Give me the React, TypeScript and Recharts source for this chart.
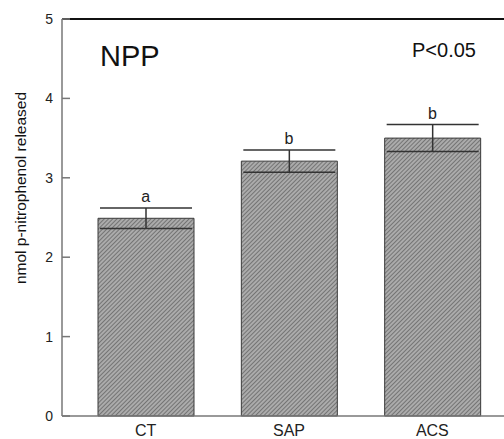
import React from "react";
import {
  BarChart,
  Bar,
  XAxis,
  YAxis,
  ErrorBar,
  ReferenceLine,
  ReferenceDot,
  Customized,
} from "recharts";

const categories = ["CT", "SAP", "ACS"];
const values = [2.49, 3.21, 3.5];
const errors = [0.13, 0.14, 0.17];
const letters = ["a", "b", "b"];
const yTicks = [0, 1, 2, 3, 4, 5];

const data = categories.map((c, i) => ({
  name: c,
  value: values[i],
  err: errors[i],
  top: values[i] + errors[i],
  letter: letters[i],
}));

const FONT = "Liberation Sans, Arial, sans-serif";

export default function App() {
  return (
    <div style={{ position: "absolute", left: 0, top: 0, width: 504, height: 439, background: "#fff" }}>
      <BarChart
        width={504}
        height={439}
        data={data}
        margin={{ top: 19, right: 0, bottom: 0, left: 0 }}
      >
        <defs>
          <pattern id="hatch" width="3" height="3" patternUnits="userSpaceOnUse" patternTransform="rotate(45)">
            <rect width="3" height="3" fill="#ababab" />
            <line x1="0" y1="0" x2="0" y2="3" stroke="#4e4e4e" strokeWidth="1.2" />
          </pattern>
        </defs>
        <XAxis
          dataKey="name"
          height={23}
          padding={{ left: 12, right: 0 }}
          tickLine={false}
          axisLine={{ stroke: "#777", strokeWidth: 1.5 }}
          tick={{ fontSize: 16, fill: "#222", fontFamily: FONT, dy: 3 }}
          tickMargin={0}
          interval={0}
        />
        <YAxis
          width={62}
          domain={[0, 5]}
          ticks={yTicks}
          tickSize={-8}
          tickMargin={17}
          axisLine={{ stroke: "#777", strokeWidth: 1.5 }}
          tickLine={{ stroke: "#777", strokeWidth: 1.5 }}
          tick={{ fontSize: 14, fill: "#222", fontFamily: FONT }}
        />
        <ReferenceLine y={5} stroke="#111" strokeWidth={2} />
        <Bar
          dataKey="value"
          barSize={96}
          fill="url(#hatch)"
          stroke="#3a3a3a"
          strokeWidth={1}
          isAnimationActive={false}
        >
          <ErrorBar dataKey="err" width={46} stroke="#333" strokeWidth={1.5} direction="y" />
        </Bar>
        {data.map((d) => (
          <ReferenceDot
            key={d.name}
            x={d.name}
            y={d.top}
            r={0}
            fill="none"
            stroke="none"
            label={{
              value: d.letter,
              position: "top",
              offset: 6,
              fontSize: 16,
              fill: "#222",
              fontFamily: FONT,
            }}
          />
        ))}
        <Customized
          component={() => (
            <g fontFamily={FONT} fill="#111">
              <text x={100} y={66} fontSize={29}>NPP</text>
              <text x={412} y={57} fontSize={20}>P&lt;0.05</text>
              <text
                x={0}
                y={0}
                fontSize={15.5}
                textAnchor="middle"
                transform="translate(26,188) rotate(-90)"
              >
                nmol p-nitrophenol released
              </text>
            </g>
          )}
        />
      </BarChart>
    </div>
  );
}
